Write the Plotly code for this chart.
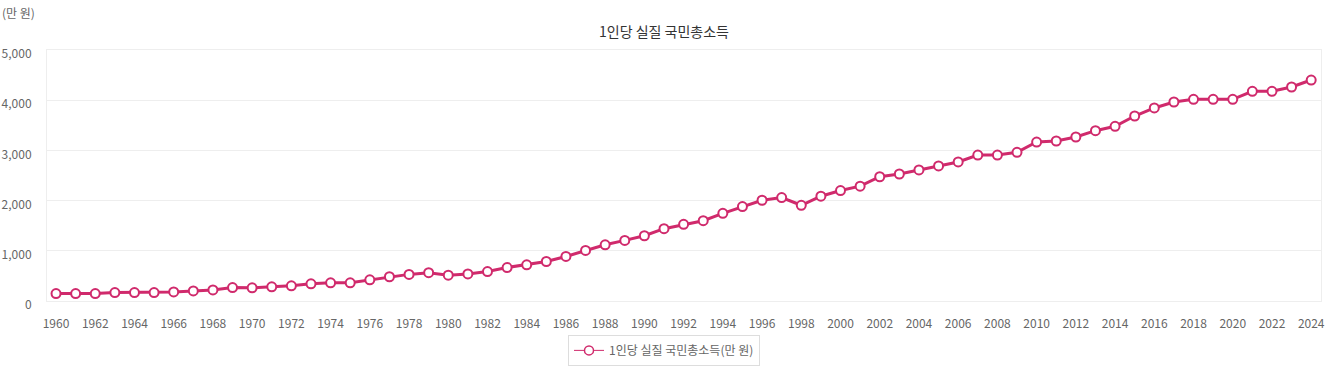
import plotly.graph_objects as go

years = list(range(1960, 2025))
income = [148, 148, 148, 168, 168, 168, 181, 201, 221, 268,
          262, 282, 302, 342, 362, 362, 423, 483, 530, 564,
          515, 540, 587, 667, 720, 787, 887, 1007, 1120, 1207,
          1300, 1440, 1527, 1600, 1747, 1880, 2007, 2060, 1907, 2087,
          2200, 2287, 2475, 2530, 2610, 2690, 2770, 2908, 2908, 2962,
          3167, 3187, 3267, 3393, 3480, 3685, 3845, 3964, 4017, 4017,
          4017, 4177, 4177, 4263, 4402]
title = "1인당 실질 국민총소득"
unit = "(만 원)"
series_name = "1인당 실질 국민총소득(만 원)"
yticks = [0, 1000, 2000, 3000, 4000, 5000]
xticks = list(range(1960, 2025, 2))

color = "#d02a6c"
font = "Noto Sans CJK KR"

fig = go.Figure()
fig.add_trace(go.Scatter(
    x=years, y=income, mode="lines+markers", showlegend=False,
    line=dict(color=color, width=3),
    marker=dict(size=9, color="white", line=dict(color=color, width=2)),
    hovertemplate="%{x}: %{y:,}<extra></extra>",
))
fig.add_trace(go.Scatter(
    x=[None], y=[None], mode="lines+markers", name=series_name,
    line=dict(color=color, width=1),
    marker=dict(size=9, color="white", line=dict(color=color, width=1.5)),
))

fig.update_layout(
    width=1328, height=370,
    margin=dict(l=47, r=7, t=50, b=69, autoexpand=False),
    paper_bgcolor="white", plot_bgcolor="white",
    font=dict(family=font, size=12, color="#666666"),
    title=dict(text=title, x=0.5, xanchor="center", y=1 - 32 / 370, yanchor="middle",
               font=dict(family=font, size=14, color="#333333")),
    showlegend=True,
    legend=dict(orientation="h", x=(664 - 47) / 1274, xanchor="center", y=-0.135, yanchor="top",
                bordercolor="#dddddd", borderwidth=1, itemwidth=30,
                font=dict(family=font, size=12, color="#666666")),
    annotations=[dict(text=unit, xref="paper", yref="paper", x=0, xanchor="left",
                      xshift=-47, y=1, yshift=38, yanchor="middle", showarrow=False,
                      font=dict(family=font, size=12, color="#666666"))],
)
fig.update_xaxes(
    range=[1959.54, 2024.5], tickvals=xticks, ticktext=[str(v) for v in xticks],
    showgrid=False, zeroline=False, showline=True, linecolor="#eeeeee", mirror=True,
    ticks="", ticklabelstandoff=12, automargin=False,
)
fig.update_yaxes(
    range=[0, 5000], tickvals=yticks, tickformat=",",
    showgrid=True, gridcolor="#eeeeee", zeroline=False,
    showline=True, linecolor="#eeeeee", mirror=True,
    ticks="", ticklabelstandoff=12, ticklabelshift=4, automargin=False,
)

fig.write_html("out.html", config={"displayModeBar": False},
               post_script="document.body.style.margin='0';")
